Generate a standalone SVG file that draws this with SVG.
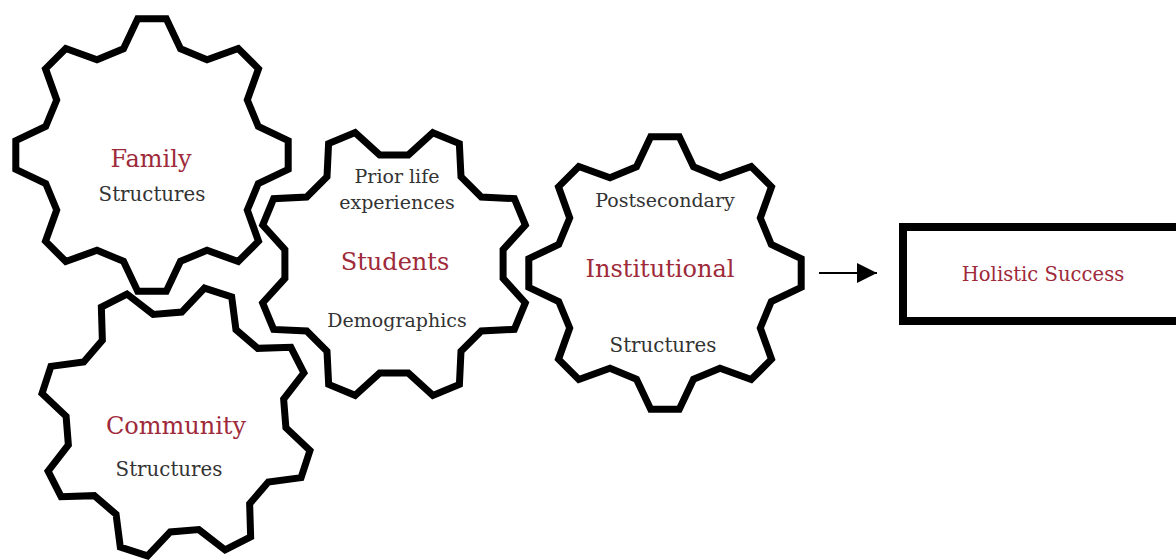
<svg xmlns="http://www.w3.org/2000/svg" xmlns:xlink="http://www.w3.org/1999/xlink" width="1176" height="560" viewBox="0 0 1176 560">
  <style>
    .gear { fill: #ffffff; stroke: #000000; stroke-width: 7; stroke-linejoin: miter; }
    .title { font-family: "DejaVu Serif", "Liberation Serif", serif; font-size: 24px; fill: #9e2a3a; text-anchor: middle; }
    .sub { font-family: "DejaVu Serif", "Liberation Serif", serif; font-size: 19px; fill: #333333; text-anchor: middle; }
    .struct { font-size: 19.8px; }
    .box { fill: #ffffff; stroke: #000000; stroke-width: 8; }
    .conn { stroke: #000000; stroke-width: 2; fill: none; }
  </style>
  <defs>
    <polygon id="gearShape" points="-14.3,-136.2 14.3,-136.2 28.5,-106.3 55,-95.3 86.2,-106.5 106.5,-86.2 95.3,-55 106.3,-28.5 136.2,-14.3 136.2,14.3 106.3,28.5 95.3,55 106.5,86.2 86.2,106.5 55,95.3 28.5,106.3 14.3,136.2 -14.3,136.2 -28.5,106.3 -55,95.3 -86.2,106.5 -106.5,86.2 -95.3,55 -106.3,28.5 -136.2,14.3 -136.2,-14.3 -106.3,-28.5 -95.3,-55 -106.5,-86.2 -86.2,-106.5 -55,-95.3 -28.5,-106.3"/>
    <marker id="arrow" markerWidth="20" markerHeight="20" refX="20" refY="10" orient="auto" markerUnits="userSpaceOnUse">
      <path d="M0,0 L20,10 L0,20 Z" fill="#000000"/>
    </marker>
  </defs>

  <g id="family">
    <use xlink:href="#gearShape" href="#gearShape" class="gear" transform="translate(152,155)"/>
    <text class="title" x="151" y="167">Family</text>
    <text class="sub struct" x="152" y="201">Structures</text>
  </g>

  <g id="community">
    <use xlink:href="#gearShape" href="#gearShape" class="gear" transform="translate(176,422) rotate(18)"/>
    <text class="title" x="176" y="434">Community</text>
    <text class="sub struct" x="169" y="476">Structures</text>
  </g>

  <g id="students">
    <use xlink:href="#gearShape" href="#gearShape" class="gear" transform="translate(394,264) rotate(22.5)"/>
    <text class="sub" x="397" y="183">Prior life</text>
    <text class="sub" x="397" y="209">experiences</text>
    <text class="title" x="395" y="270">Students</text>
    <text class="sub" x="397" y="327">Demographics</text>
  </g>

  <g id="institutional">
    <use xlink:href="#gearShape" href="#gearShape" class="gear" transform="translate(665,273)"/>
    <text class="sub" x="665" y="207">Postsecondary</text>
    <text class="title" x="660" y="277">Institutional</text>
    <text class="sub struct" x="663" y="352">Structures</text>
  </g>

  <g id="holistic">
    <rect class="box" x="903" y="227" width="290" height="94"/>
    <text class="title" x="1043" y="281" style="font-size:19.6px">Holistic Success</text>
  </g>

  <g id="connectors">
    <line class="conn" x1="819" y1="273" x2="877" y2="273" marker-end="url(#arrow)"/>
  </g>
</svg>
